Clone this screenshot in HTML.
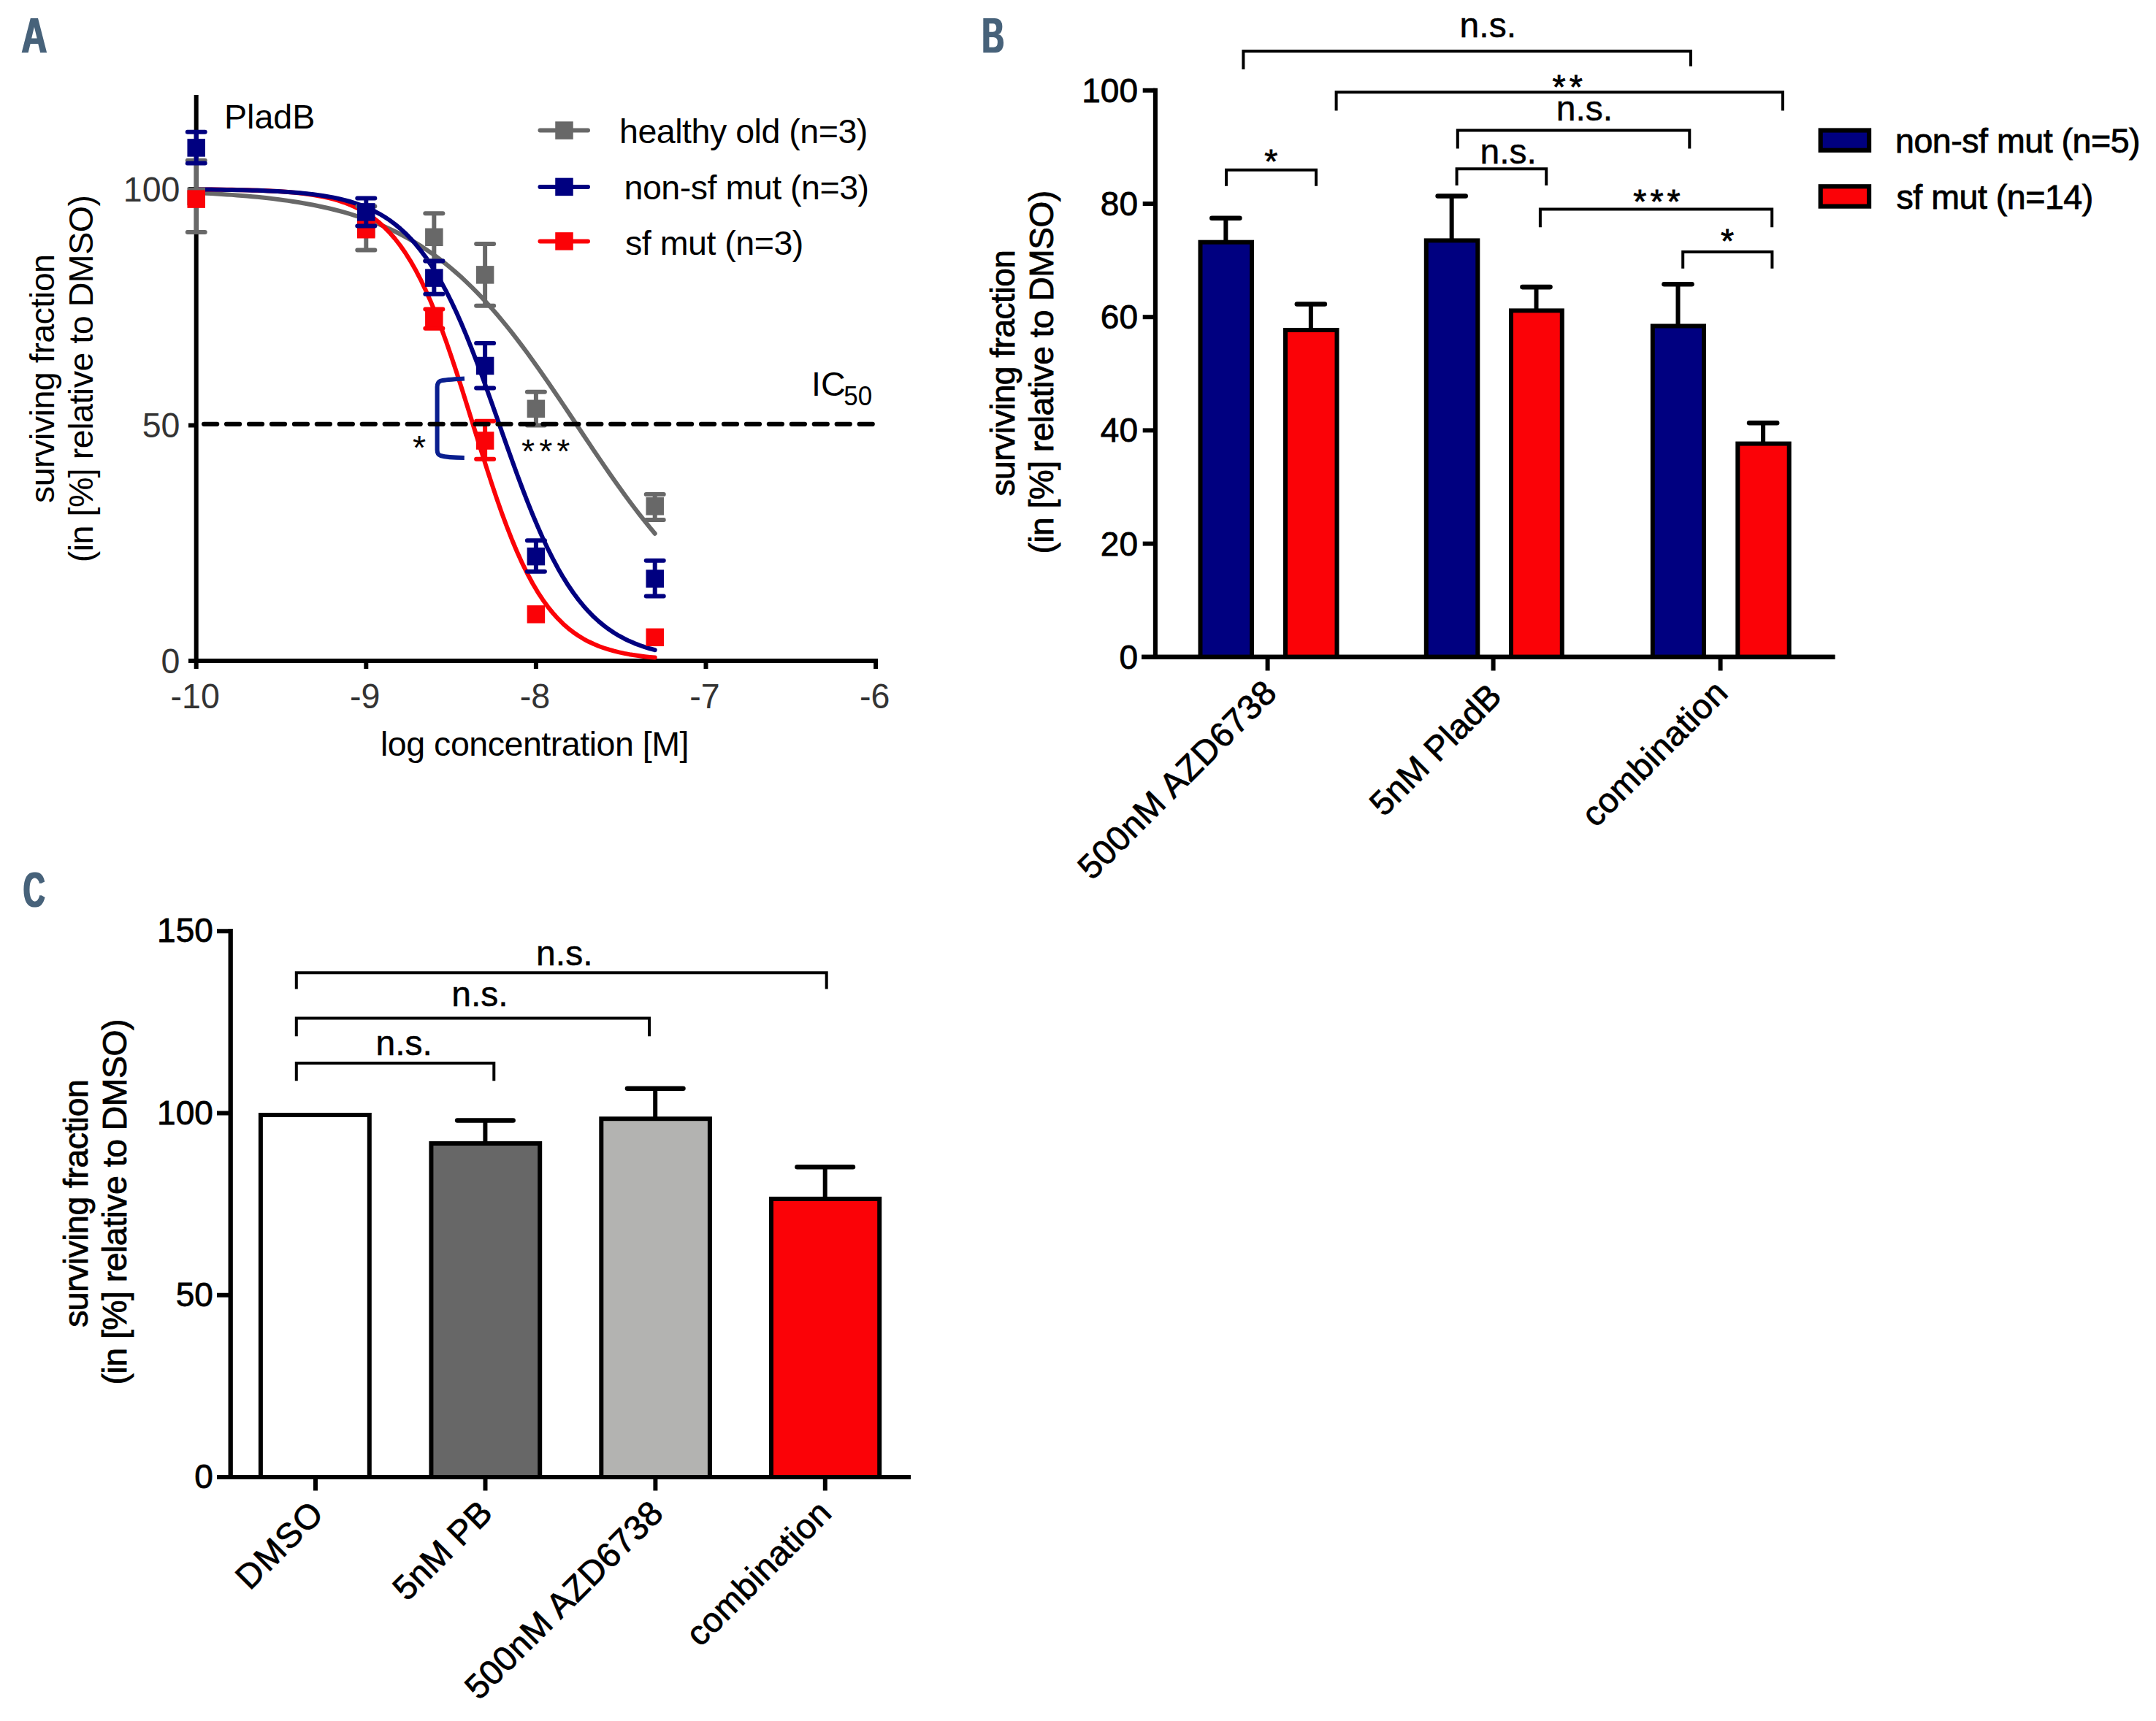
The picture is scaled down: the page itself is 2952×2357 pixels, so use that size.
<!DOCTYPE html>
<html lang="en">
<head>
<meta charset="utf-8">
<title>Figure: surviving fraction under PladB / AZD6738 treatment</title>
<style>
html,body{margin:0;padding:0;background:#fff;}
body{width:2952px;height:2357px;overflow:hidden;}
svg{display:block;font-family:"Liberation Sans",sans-serif;font-size:46.6px;}
</style>
</head>
<body>
<svg width="2952" height="2357" viewBox="0 0 2952 2357">
<defs>
<filter id="hbA" x="-5%" y="-5%" width="110%" height="110%"><feMorphology operator="dilate" radius="1 0"/></filter>
<filter id="hbB" x="-5%" y="-5%" width="110%" height="110%"><feMorphology operator="dilate" radius="1 0"/></filter>
<filter id="hbC" x="-5%" y="-5%" width="110%" height="110%"><feMorphology operator="dilate" radius="1 0"/></filter>
</defs>
<rect x="0" y="0" width="2952" height="2357" fill="#ffffff"/>
<!-- Panel A -->
<g filter="url(#hbA)">
<text transform="translate(29.6 72) scale(0.71 1)" font-size="68" fill="#47627a" font-weight="bold">A</text>
</g>
<line x1="268.7" y1="130" x2="268.7" y2="908" stroke="#000" stroke-width="6"/>
<line x1="258" y1="905" x2="1202" y2="905" stroke="#000" stroke-width="6"/>
<text transform="translate(246.5 921.6) scale(1 1.04)" text-anchor="end" fill="#333333">0</text>
<line x1="258" y1="582.5" x2="268.7" y2="582.5" stroke="#000" stroke-width="6"/>
<text transform="translate(246.5 599.1) scale(1 1.04)" text-anchor="end" fill="#333333">50</text>
<line x1="258" y1="259" x2="268.7" y2="259" stroke="#000" stroke-width="6"/>
<text transform="translate(246.5 275.6) scale(1 1.04)" text-anchor="end" fill="#333333">100</text>
<line x1="268.7" y1="905" x2="268.7" y2="916" stroke="#000" stroke-width="6"/>
<text transform="translate(267.2 970.3) scale(1 1.04)" text-anchor="middle" fill="#333333">-10</text>
<line x1="501.3" y1="905" x2="501.3" y2="916" stroke="#000" stroke-width="6"/>
<text transform="translate(499.8 970.3) scale(1 1.04)" text-anchor="middle" fill="#333333">-9</text>
<line x1="733.9" y1="905" x2="733.9" y2="916" stroke="#000" stroke-width="6"/>
<text transform="translate(732.4 970.3) scale(1 1.04)" text-anchor="middle" fill="#333333">-8</text>
<line x1="966.5" y1="905" x2="966.5" y2="916" stroke="#000" stroke-width="6"/>
<text transform="translate(965 970.3) scale(1 1.04)" text-anchor="middle" fill="#333333">-7</text>
<line x1="1199.1" y1="905" x2="1199.1" y2="916" stroke="#000" stroke-width="6"/>
<text transform="translate(1197.6 970.3) scale(1 1.04)" text-anchor="middle" fill="#333333">-6</text>
<path d="M268.7 264.03 L275.68 264.36 L282.66 264.72 L289.63 265.1 L296.61 265.5 L303.59 265.93 L310.57 266.39 L317.55 266.88 L324.52 267.41 L331.5 267.96 L338.48 268.55 L345.46 269.18 L352.44 269.86 L359.41 270.57 L366.39 271.33 L373.37 272.14 L380.35 273.01 L387.33 273.92 L394.3 274.9 L401.28 275.94 L408.26 277.04 L415.24 278.22 L422.22 279.47 L429.19 280.79 L436.17 282.2 L443.15 283.7 L450.13 285.29 L457.11 286.98 L464.08 288.77 L471.06 290.67 L478.04 292.68 L485.02 294.81 L492 297.08 L498.97 299.47 L505.95 302 L512.93 304.69 L519.91 307.52 L526.89 310.52 L533.86 313.68 L540.84 317.02 L547.82 320.54 L554.8 324.25 L561.78 328.16 L568.75 332.27 L575.73 336.6 L582.71 341.14 L589.69 345.91 L596.67 350.91 L603.64 356.15 L610.62 361.63 L617.6 367.36 L624.58 373.35 L631.56 379.59 L638.53 386.09 L645.51 392.84 L652.49 399.87 L659.47 407.15 L666.45 414.69 L673.42 422.49 L680.4 430.55 L687.38 438.85 L694.36 447.4 L701.34 456.18 L708.31 465.19 L715.29 474.41 L722.27 483.83 L729.25 493.44 L736.23 503.22 L743.2 513.16 L750.18 523.24 L757.16 533.43 L764.14 543.73 L771.12 554.11 L778.09 564.54 L785.07 575.01 L792.05 585.5 L799.03 595.97 L806.01 606.42 L812.98 616.82 L819.96 627.14 L826.94 637.38 L833.92 647.5 L840.9 657.48 L847.87 667.32 L854.85 676.99 L861.83 686.47 L868.81 695.76 L875.79 704.84 L882.76 713.7 L889.74 722.32 L896.72 730.71" fill="none" stroke="#686868" stroke-width="6" stroke-linecap="round" stroke-linejoin="round"/>
<path d="M268.7 259.33 L275.68 259.38 L282.66 259.44 L289.63 259.5 L296.61 259.57 L303.59 259.66 L310.57 259.76 L317.55 259.87 L324.52 260 L331.5 260.15 L338.48 260.33 L345.46 260.52 L352.44 260.75 L359.41 261.01 L366.39 261.31 L373.37 261.66 L380.35 262.06 L387.33 262.51 L394.3 263.03 L401.28 263.63 L408.26 264.32 L415.24 265.11 L422.22 266.02 L429.19 267.05 L436.17 268.24 L443.15 269.6 L450.13 271.16 L457.11 272.94 L464.08 274.98 L471.06 277.3 L478.04 279.96 L485.02 282.98 L492 286.42 L498.97 290.32 L505.95 294.75 L512.93 299.77 L519.91 305.43 L526.89 311.82 L533.86 318.99 L540.84 327.03 L547.82 336 L554.8 345.98 L561.78 357.03 L568.75 369.2 L575.73 382.55 L582.71 397.1 L589.69 412.85 L596.67 429.8 L603.64 447.89 L610.62 467.07 L617.6 487.22 L624.58 508.21 L631.56 529.88 L638.53 552.04 L645.51 574.49 L652.49 597.01 L659.47 619.39 L666.45 641.41 L673.42 662.87 L680.4 683.6 L687.38 703.44 L694.36 722.26 L701.34 739.98 L708.31 756.54 L715.29 771.89 L722.27 786.03 L729.25 798.98 L736.23 810.78 L743.2 821.46 L750.18 831.1 L757.16 839.75 L764.14 847.49 L771.12 854.39 L778.09 860.53 L785.07 865.97 L792.05 870.79 L799.03 875.04 L806.01 878.78 L812.98 882.07 L819.96 884.97 L826.94 887.51 L833.92 889.73 L840.9 891.68 L847.87 893.38 L854.85 894.87 L861.83 896.17 L868.81 897.31 L875.79 898.3 L882.76 899.16 L889.74 899.92 L896.72 900.58" fill="none" stroke="#fb0207" stroke-width="6" stroke-linecap="round" stroke-linejoin="round"/>
<path d="M268.7 259.43 L275.68 259.49 L282.66 259.55 L289.63 259.62 L296.61 259.7 L303.59 259.79 L310.57 259.9 L317.55 260.01 L324.52 260.15 L331.5 260.3 L338.48 260.47 L345.46 260.66 L352.44 260.87 L359.41 261.12 L366.39 261.39 L373.37 261.7 L380.35 262.06 L387.33 262.45 L394.3 262.9 L401.28 263.41 L408.26 263.98 L415.24 264.63 L422.22 265.36 L429.19 266.18 L436.17 267.11 L443.15 268.16 L450.13 269.34 L457.11 270.66 L464.08 272.16 L471.06 273.84 L478.04 275.73 L485.02 277.86 L492 280.24 L498.97 282.92 L505.95 285.92 L512.93 289.28 L519.91 293.03 L526.89 297.22 L533.86 301.88 L540.84 307.08 L547.82 312.84 L554.8 319.23 L561.78 326.29 L568.75 334.07 L575.73 342.62 L582.71 351.99 L589.69 362.21 L596.67 373.33 L603.64 385.36 L610.62 398.33 L617.6 412.23 L624.58 427.06 L631.56 442.8 L638.53 459.38 L645.51 476.76 L652.49 494.85 L659.47 513.55 L666.45 532.74 L673.42 552.3 L680.4 572.07 L687.38 591.93 L694.36 611.7 L701.34 631.26 L708.31 650.45 L715.29 669.15 L722.27 687.24 L729.25 704.62 L736.23 721.2 L743.2 736.94 L750.18 751.77 L757.16 765.67 L764.14 778.64 L771.12 790.67 L778.09 801.79 L785.07 812.01 L792.05 821.38 L799.03 829.93 L806.01 837.71 L812.98 844.77 L819.96 851.16 L826.94 856.92 L833.92 862.12 L840.9 866.78 L847.87 870.97 L854.85 874.72 L861.83 878.08 L868.81 881.08 L875.79 883.76 L882.76 886.14 L889.74 888.27 L896.72 890.16" fill="none" stroke="#000080" stroke-width="6" stroke-linecap="round" stroke-linejoin="round"/>
<line x1="268.7" y1="219.7" x2="268.7" y2="318" stroke="#686868" stroke-width="6"/>
<line x1="256.7" y1="219.7" x2="280.7" y2="219.7" stroke="#686868" stroke-width="6" stroke-linecap="round"/>
<line x1="256.7" y1="318" x2="280.7" y2="318" stroke="#686868" stroke-width="6" stroke-linecap="round"/>
<line x1="501.3" y1="282.6" x2="501.3" y2="342.5" stroke="#686868" stroke-width="6"/>
<line x1="489.3" y1="282.6" x2="513.3" y2="282.6" stroke="#686868" stroke-width="6" stroke-linecap="round"/>
<line x1="489.3" y1="342.5" x2="513.3" y2="342.5" stroke="#686868" stroke-width="6" stroke-linecap="round"/>
<line x1="594.34" y1="292.3" x2="594.34" y2="357.3" stroke="#686868" stroke-width="6"/>
<line x1="582.34" y1="292.3" x2="606.34" y2="292.3" stroke="#686868" stroke-width="6" stroke-linecap="round"/>
<line x1="582.34" y1="357.3" x2="606.34" y2="357.3" stroke="#686868" stroke-width="6" stroke-linecap="round"/>
<line x1="664.12" y1="333.9" x2="664.12" y2="418.7" stroke="#686868" stroke-width="6"/>
<line x1="652.12" y1="333.9" x2="676.12" y2="333.9" stroke="#686868" stroke-width="6" stroke-linecap="round"/>
<line x1="652.12" y1="418.7" x2="676.12" y2="418.7" stroke="#686868" stroke-width="6" stroke-linecap="round"/>
<line x1="733.9" y1="536.8" x2="733.9" y2="582.6" stroke="#686868" stroke-width="6"/>
<line x1="721.9" y1="536.8" x2="745.9" y2="536.8" stroke="#686868" stroke-width="6" stroke-linecap="round"/>
<line x1="721.9" y1="582.6" x2="745.9" y2="582.6" stroke="#686868" stroke-width="6" stroke-linecap="round"/>
<line x1="896.72" y1="676.9" x2="896.72" y2="712" stroke="#686868" stroke-width="6"/>
<line x1="884.72" y1="676.9" x2="908.72" y2="676.9" stroke="#686868" stroke-width="6" stroke-linecap="round"/>
<line x1="884.72" y1="712" x2="908.72" y2="712" stroke="#686868" stroke-width="6" stroke-linecap="round"/>
<rect x="256.45" y="256.65" width="24.5" height="24.5" fill="#686868"/>
<rect x="489.05" y="300.25" width="24.5" height="24.5" fill="#686868"/>
<rect x="582.09" y="312.55" width="24.5" height="24.5" fill="#686868"/>
<rect x="651.87" y="364.15" width="24.5" height="24.5" fill="#686868"/>
<rect x="721.65" y="547.55" width="24.5" height="24.5" fill="#686868"/>
<rect x="884.47" y="681.05" width="24.5" height="24.5" fill="#686868"/>
<line x1="594.34" y1="423.4" x2="594.34" y2="449.7" stroke="#fb0207" stroke-width="6"/>
<line x1="582.34" y1="423.4" x2="606.34" y2="423.4" stroke="#fb0207" stroke-width="6" stroke-linecap="round"/>
<line x1="582.34" y1="449.7" x2="606.34" y2="449.7" stroke="#fb0207" stroke-width="6" stroke-linecap="round"/>
<line x1="664.12" y1="576.8" x2="664.12" y2="628.8" stroke="#fb0207" stroke-width="6"/>
<line x1="652.12" y1="576.8" x2="676.12" y2="576.8" stroke="#fb0207" stroke-width="6" stroke-linecap="round"/>
<line x1="652.12" y1="628.8" x2="676.12" y2="628.8" stroke="#fb0207" stroke-width="6" stroke-linecap="round"/>
<rect x="256.45" y="260.35" width="24.5" height="24.5" fill="#fb0207"/>
<rect x="489.05" y="301.95" width="24.5" height="24.5" fill="#fb0207"/>
<rect x="582.09" y="423.25" width="24.5" height="24.5" fill="#fb0207"/>
<rect x="651.87" y="591.25" width="24.5" height="24.5" fill="#fb0207"/>
<rect x="721.65" y="829.05" width="24.5" height="24.5" fill="#fb0207"/>
<rect x="884.47" y="860.55" width="24.5" height="24.5" fill="#fb0207"/>
<line x1="268.7" y1="180.7" x2="268.7" y2="223.6" stroke="#000080" stroke-width="6"/>
<line x1="256.7" y1="180.7" x2="280.7" y2="180.7" stroke="#000080" stroke-width="6" stroke-linecap="round"/>
<line x1="256.7" y1="223.6" x2="280.7" y2="223.6" stroke="#000080" stroke-width="6" stroke-linecap="round"/>
<line x1="501.3" y1="271.4" x2="501.3" y2="309.5" stroke="#000080" stroke-width="6"/>
<line x1="489.3" y1="271.4" x2="513.3" y2="271.4" stroke="#000080" stroke-width="6" stroke-linecap="round"/>
<line x1="489.3" y1="309.5" x2="513.3" y2="309.5" stroke="#000080" stroke-width="6" stroke-linecap="round"/>
<line x1="594.34" y1="357.4" x2="594.34" y2="402.7" stroke="#000080" stroke-width="6"/>
<line x1="582.34" y1="357.4" x2="606.34" y2="357.4" stroke="#000080" stroke-width="6" stroke-linecap="round"/>
<line x1="582.34" y1="402.7" x2="606.34" y2="402.7" stroke="#000080" stroke-width="6" stroke-linecap="round"/>
<line x1="664.12" y1="470.1" x2="664.12" y2="531.5" stroke="#000080" stroke-width="6"/>
<line x1="652.12" y1="470.1" x2="676.12" y2="470.1" stroke="#000080" stroke-width="6" stroke-linecap="round"/>
<line x1="652.12" y1="531.5" x2="676.12" y2="531.5" stroke="#000080" stroke-width="6" stroke-linecap="round"/>
<line x1="733.9" y1="740.2" x2="733.9" y2="782.7" stroke="#000080" stroke-width="6"/>
<line x1="721.9" y1="740.2" x2="745.9" y2="740.2" stroke="#000080" stroke-width="6" stroke-linecap="round"/>
<line x1="721.9" y1="782.7" x2="745.9" y2="782.7" stroke="#000080" stroke-width="6" stroke-linecap="round"/>
<line x1="896.72" y1="767.8" x2="896.72" y2="816.5" stroke="#000080" stroke-width="6"/>
<line x1="884.72" y1="767.8" x2="908.72" y2="767.8" stroke="#000080" stroke-width="6" stroke-linecap="round"/>
<line x1="884.72" y1="816.5" x2="908.72" y2="816.5" stroke="#000080" stroke-width="6" stroke-linecap="round"/>
<rect x="256.45" y="190.15" width="24.5" height="24.5" fill="#000080"/>
<rect x="489.05" y="278.15" width="24.5" height="24.5" fill="#000080"/>
<rect x="582.09" y="368.35" width="24.5" height="24.5" fill="#000080"/>
<rect x="651.87" y="488.75" width="24.5" height="24.5" fill="#000080"/>
<rect x="721.65" y="749.85" width="24.5" height="24.5" fill="#000080"/>
<rect x="884.47" y="780.25" width="24.5" height="24.5" fill="#000080"/>
<path d="M636 518.6 C620 519.6 607 520 602.5 522 Q598.6 524 598.6 530 V616 Q598.6 622.5 603 624 C610 626 622 626.8 635.8 627" fill="none" stroke="#0a1f8f" stroke-width="6" stroke-linecap="butt" stroke-linejoin="round"/>
<path d="M279.1 580.8 H1196" fill="none" stroke="#000" stroke-width="6.2" stroke-linecap="round" stroke-linejoin="miter" stroke-dasharray="18.1 12.85"/>
<text x="565" y="629">*</text>
<text x="714" y="634" letter-spacing="6">***</text>
<text x="307" y="175.8">PladB</text>
<text x="1111" y="542">IC</text>
<text transform="translate(1155.3 555) scale(1 1.04)" font-size="35">50</text>
<line x1="739.5" y1="178.6" x2="805" y2="178.6" stroke="#686868" stroke-width="6" stroke-linecap="round"/>
<rect x="760.25" y="166.35" width="24.5" height="24.5" fill="#686868"/>
<text x="848" y="196" letter-spacing="-0.5">healthy old (n=3)</text>
<line x1="739.5" y1="255.9" x2="805" y2="255.9" stroke="#000080" stroke-width="6" stroke-linecap="round"/>
<rect x="760.25" y="243.65" width="24.5" height="24.5" fill="#000080"/>
<text x="854.5" y="273.1" letter-spacing="-0.5">non-sf mut (n=3)</text>
<line x1="739.5" y1="330.4" x2="805" y2="330.4" stroke="#fb0207" stroke-width="6" stroke-linecap="round"/>
<rect x="760.25" y="318.15" width="24.5" height="24.5" fill="#fb0207"/>
<text x="856" y="348.5" letter-spacing="-0.5">sf mut (n=3)</text>
<text x="732" y="1034.6" text-anchor="middle" letter-spacing="-0.5">log concentration [M]</text>
<text transform="translate(73.7 518.8) rotate(-90)" text-anchor="middle" letter-spacing="-0.5">surviving fraction</text>
<text transform="translate(127.4 518.9) rotate(-90)" text-anchor="middle" letter-spacing="-0.5">(in [%] relative to DMSO)</text>
<!-- Panel B -->
<g filter="url(#hbB)">
<text transform="translate(1344.5 72) scale(0.62 1)" font-size="68" fill="#47627a" font-weight="bold">B</text>
</g>
<line x1="1581.9" y1="120.7" x2="1581.9" y2="902.8" stroke="#000" stroke-width="6.1"/>
<line x1="1563.1" y1="899.8" x2="2512.4" y2="899.8" stroke="#000" stroke-width="6"/>
<text x="1558" y="915.7" stroke="#000" stroke-width="0.8" text-anchor="end" font-size="46">0</text>
<line x1="1564.7" y1="744.6" x2="1581.9" y2="744.6" stroke="#000" stroke-width="6"/>
<text x="1558" y="760.5" stroke="#000" stroke-width="0.8" text-anchor="end" font-size="46">20</text>
<line x1="1564.7" y1="589.4" x2="1581.9" y2="589.4" stroke="#000" stroke-width="6"/>
<text x="1558" y="605.3" stroke="#000" stroke-width="0.8" text-anchor="end" font-size="46">40</text>
<line x1="1564.7" y1="434.2" x2="1581.9" y2="434.2" stroke="#000" stroke-width="6"/>
<text x="1558" y="450.1" stroke="#000" stroke-width="0.8" text-anchor="end" font-size="46">60</text>
<line x1="1564.7" y1="279" x2="1581.9" y2="279" stroke="#000" stroke-width="6"/>
<text x="1558" y="294.9" stroke="#000" stroke-width="0.8" text-anchor="end" font-size="46">80</text>
<line x1="1564.7" y1="123.8" x2="1581.9" y2="123.8" stroke="#000" stroke-width="6"/>
<text x="1558" y="139.7" stroke="#000" stroke-width="0.8" text-anchor="end" font-size="46">100</text>
<line x1="1735.6" y1="899.8" x2="1735.6" y2="918.5" stroke="#000" stroke-width="6"/>
<line x1="2044.6" y1="899.8" x2="2044.6" y2="918.5" stroke="#000" stroke-width="6"/>
<line x1="2355.6" y1="899.8" x2="2355.6" y2="918.5" stroke="#000" stroke-width="6"/>
<line x1="1678.35" y1="298.7" x2="1678.35" y2="330.7" stroke="#000" stroke-width="6"/>
<line x1="1659.35" y1="298.7" x2="1697.35" y2="298.7" stroke="#000" stroke-width="6.6" stroke-linecap="round"/>
<rect x="1643.5" y="331.7" width="70.5" height="568.1" fill="#000080" stroke="#000" stroke-width="6"/>
<line x1="1794.85" y1="416.5" x2="1794.85" y2="451" stroke="#000" stroke-width="6"/>
<line x1="1775.85" y1="416.5" x2="1813.85" y2="416.5" stroke="#000" stroke-width="6.6" stroke-linecap="round"/>
<rect x="1760" y="452" width="70.5" height="447.8" fill="#fb0207" stroke="#000" stroke-width="6"/>
<line x1="1987.65" y1="268.5" x2="1987.65" y2="328.4" stroke="#000" stroke-width="6"/>
<line x1="1968.65" y1="268.5" x2="2006.65" y2="268.5" stroke="#000" stroke-width="6.6" stroke-linecap="round"/>
<rect x="1952.8" y="329.4" width="70.5" height="570.4" fill="#000080" stroke="#000" stroke-width="6"/>
<line x1="2103.5" y1="393.1" x2="2103.5" y2="424.4" stroke="#000" stroke-width="6"/>
<line x1="2084.5" y1="393.1" x2="2122.5" y2="393.1" stroke="#000" stroke-width="6.6" stroke-linecap="round"/>
<rect x="2069" y="425.4" width="69.8" height="474.4" fill="#fb0207" stroke="#000" stroke-width="6"/>
<line x1="2297.5" y1="389.2" x2="2297.5" y2="445.5" stroke="#000" stroke-width="6"/>
<line x1="2278.5" y1="389.2" x2="2316.5" y2="389.2" stroke="#000" stroke-width="6.6" stroke-linecap="round"/>
<rect x="2262.8" y="446.5" width="70.2" height="453.3" fill="#000080" stroke="#000" stroke-width="6"/>
<line x1="2414.1" y1="579.2" x2="2414.1" y2="606.6" stroke="#000" stroke-width="6"/>
<line x1="2395.1" y1="579.2" x2="2433.1" y2="579.2" stroke="#000" stroke-width="6.6" stroke-linecap="round"/>
<rect x="2379.3" y="607.6" width="70.4" height="292.2" fill="#fb0207" stroke="#000" stroke-width="6"/>
<line x1="1563.1" y1="899.8" x2="2512.4" y2="899.8" stroke="#000" stroke-width="6"/>
<path d="M1702.4 95 V70 H2315 V90.8" fill="none" stroke="#000" stroke-width="4" stroke-linecap="butt" stroke-linejoin="miter"/>
<path d="M1829.6 151.5 V126.3 H2441 V151.5" fill="none" stroke="#000" stroke-width="4" stroke-linecap="butt" stroke-linejoin="miter"/>
<path d="M1995.8 203.5 V178.6 H2313.3 V203.5" fill="none" stroke="#000" stroke-width="4" stroke-linecap="butt" stroke-linejoin="miter"/>
<path d="M1994.6 254 V231.2 H2117.2 V254" fill="none" stroke="#000" stroke-width="4" stroke-linecap="butt" stroke-linejoin="miter"/>
<path d="M1679 254.8 V232.7 H1802 V254.8" fill="none" stroke="#000" stroke-width="4" stroke-linecap="butt" stroke-linejoin="miter"/>
<path d="M2108.9 311.2 V286.4 H2426.2 V311.2" fill="none" stroke="#000" stroke-width="4" stroke-linecap="butt" stroke-linejoin="miter"/>
<path d="M2304.2 367.8 V345.1 H2426.4 V367.8" fill="none" stroke="#000" stroke-width="4" stroke-linecap="butt" stroke-linejoin="miter"/>
<text x="2037.3" y="50.6" stroke="#000" stroke-width="0.5" text-anchor="middle" font-size="48">n.s.</text>
<text x="2169.5" y="165.2" stroke="#000" stroke-width="0.5" text-anchor="middle" font-size="48">n.s.</text>
<text x="2065.2" y="223.7" stroke="#000" stroke-width="0.5" text-anchor="middle" font-size="48">n.s.</text>
<text x="2148.7" y="134.8" stroke="#000" stroke-width="0.8" text-anchor="middle" letter-spacing="5">**</text>
<text x="1740.3" y="236.5" stroke="#000" stroke-width="0.8" text-anchor="middle">*</text>
<text x="2271" y="292" stroke="#000" stroke-width="0.8" text-anchor="middle" letter-spacing="5">***</text>
<text x="2365" y="345.8" stroke="#000" stroke-width="0.8" text-anchor="middle">*</text>
<rect x="2492.7" y="178.5" width="66.4" height="27.3" fill="#000080" stroke="#000" stroke-width="6.2"/>
<rect x="2492.7" y="255.3" width="66.4" height="27.3" fill="#fb0207" stroke="#000" stroke-width="6.2"/>
<text x="2595" y="208.9" stroke="#000" stroke-width="0.8" letter-spacing="-0.5">non-sf mut (n=5)</text>
<text x="2596.5" y="285.7" stroke="#000" stroke-width="0.8" letter-spacing="-0.5">sf mut (n=14)</text>
<text transform="translate(1750.5 951.7) rotate(-45)" stroke="#000" stroke-width="0.8" text-anchor="end" font-size="47.2" textLength="361">500nM AZD6738</text>
<text transform="translate(2058.6 956.3) rotate(-45)" stroke="#000" stroke-width="0.8" text-anchor="end" font-size="47.2" textLength="231.6">5nM PladB</text>
<text transform="translate(2368 951.8) rotate(-45)" stroke="#000" stroke-width="0.8" text-anchor="end" font-size="47.2" textLength="258.9">combination</text>
<text transform="translate(1388.8 511) rotate(-90)" stroke="#000" stroke-width="0.8" text-anchor="middle" font-size="46.1" letter-spacing="-0.5">surviving fraction</text>
<text transform="translate(1441.8 510) rotate(-90)" stroke="#000" stroke-width="0.8" text-anchor="middle" font-size="46.1" letter-spacing="-0.5">(in [%] relative to DMSO)</text>
<!-- Panel C -->
<g filter="url(#hbC)">
<text transform="translate(31.7 1241.5) scale(0.61 1)" font-size="68" fill="#47627a" font-weight="bold">C</text>
</g>
<line x1="315.7" y1="1272" x2="315.7" y2="2026" stroke="#000" stroke-width="6.3"/>
<line x1="297" y1="2023" x2="1247" y2="2023" stroke="#000" stroke-width="6"/>
<text x="291.8" y="2038.2" stroke="#000" stroke-width="0.8" text-anchor="end" font-size="46">0</text>
<line x1="297" y1="1773.75" x2="315.7" y2="1773.75" stroke="#000" stroke-width="6"/>
<text x="291.8" y="1788.95" stroke="#000" stroke-width="0.8" text-anchor="end" font-size="46">50</text>
<line x1="297" y1="1524.5" x2="315.7" y2="1524.5" stroke="#000" stroke-width="6"/>
<text x="291.8" y="1539.7" stroke="#000" stroke-width="0.8" text-anchor="end" font-size="46">100</text>
<line x1="297" y1="1275.25" x2="315.7" y2="1275.25" stroke="#000" stroke-width="6"/>
<text x="291.8" y="1290.45" stroke="#000" stroke-width="0.8" text-anchor="end" font-size="46">150</text>
<line x1="432" y1="2023" x2="432" y2="2041.5" stroke="#000" stroke-width="6"/>
<line x1="664.5" y1="2023" x2="664.5" y2="2041.5" stroke="#000" stroke-width="6"/>
<line x1="897.4" y1="2023" x2="897.4" y2="2041.5" stroke="#000" stroke-width="6"/>
<line x1="1129.8" y1="2023" x2="1129.8" y2="2041.5" stroke="#000" stroke-width="6"/>
<rect x="356.9" y="1527" width="148.9" height="496" fill="#ffffff" stroke="#000" stroke-width="6"/>
<line x1="664.4" y1="1534.5" x2="664.4" y2="1565" stroke="#000" stroke-width="6"/>
<line x1="626.2" y1="1534.5" x2="702.6" y2="1534.5" stroke="#000" stroke-width="6.6" stroke-linecap="round"/>
<rect x="590.4" y="1566" width="148.8" height="457" fill="#676767" stroke="#000" stroke-width="6"/>
<line x1="897.2" y1="1490.8" x2="897.2" y2="1531.2" stroke="#000" stroke-width="6"/>
<line x1="859" y1="1490.8" x2="935.4" y2="1490.8" stroke="#000" stroke-width="6.6" stroke-linecap="round"/>
<rect x="823.3" y="1532.2" width="148.6" height="490.8" fill="#b3b3b1" stroke="#000" stroke-width="6"/>
<line x1="1129.7" y1="1598.2" x2="1129.7" y2="1640.9" stroke="#000" stroke-width="6"/>
<line x1="1091.5" y1="1598.2" x2="1167.9" y2="1598.2" stroke="#000" stroke-width="6.6" stroke-linecap="round"/>
<rect x="1056" y="1641.9" width="148.2" height="381.1" fill="#fb0207" stroke="#000" stroke-width="6"/>
<line x1="297" y1="2023" x2="1247" y2="2023" stroke="#000" stroke-width="6"/>
<path d="M405.8 1354.5 V1332.2 H1131.7 V1354.5" fill="none" stroke="#000" stroke-width="4" stroke-linecap="butt" stroke-linejoin="miter"/>
<path d="M405.8 1419.2 V1394.6 H889 V1419.2" fill="none" stroke="#000" stroke-width="4" stroke-linecap="butt" stroke-linejoin="miter"/>
<path d="M405.8 1480.2 V1456 H676.3 V1480.2" fill="none" stroke="#000" stroke-width="4" stroke-linecap="butt" stroke-linejoin="miter"/>
<text x="772.8" y="1321.8" stroke="#000" stroke-width="0.5" text-anchor="middle" font-size="48">n.s.</text>
<text x="657" y="1377.8" stroke="#000" stroke-width="0.5" text-anchor="middle" font-size="48">n.s.</text>
<text x="553.2" y="1444.8" stroke="#000" stroke-width="0.5" text-anchor="middle" font-size="48">n.s.</text>
<text transform="translate(445.3 2076.1) rotate(-45)" stroke="#000" stroke-width="0.8" text-anchor="end" font-size="47.2" textLength="146">DMSO</text>
<text transform="translate(676.7 2075) rotate(-45)" stroke="#000" stroke-width="0.8" text-anchor="end" font-size="47.2" textLength="169">5nM PB</text>
<text transform="translate(910.6 2075.5) rotate(-45)" stroke="#000" stroke-width="0.8" text-anchor="end" font-size="47.2" textLength="360">500nM AZD6738</text>
<text transform="translate(1140.9 2075) rotate(-45)" stroke="#000" stroke-width="0.8" text-anchor="end" font-size="47.2" textLength="257.5">combination</text>
<text transform="translate(119.8 1648.3) rotate(-90)" stroke="#000" stroke-width="0.8" text-anchor="middle" font-size="46.4" letter-spacing="-0.5">surviving fraction</text>
<text transform="translate(173.4 1646.3) rotate(-90)" stroke="#000" stroke-width="0.8" text-anchor="middle" font-size="46.4" letter-spacing="-0.5">(in [%] relative to DMSO)</text>
</svg>
</body>
</html>
